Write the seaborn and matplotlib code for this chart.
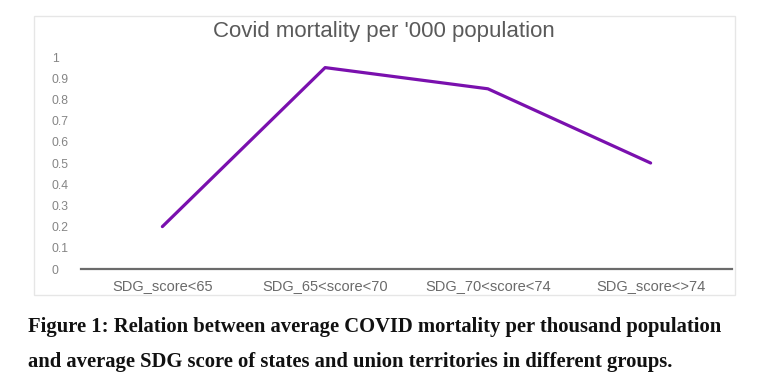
import matplotlib
matplotlib.use("Agg")
import matplotlib.pyplot as plt
import seaborn as sns
import pandas as pd
from matplotlib.patches import Rectangle

categories = ["SDG_score<65", "SDG_65<score<70", "SDG_70<score<74", "SDG_score<>74"]
mortality = [0.20, 0.95, 0.85, 0.50]
yticks = [0, 0.1, 0.2, 0.3, 0.4, 0.5, 0.6, 0.7, 0.8, 0.9, 1]
ytick_labels = ["0", "0.1", "0.2", "0.3", "0.4", "0.5", "0.6", "0.7", "0.8", "0.9", "1"]
title = "Covid mortality per '000 population"
caption1 = "Figure 1: Relation between average COVID mortality per thousand population"
caption2 = "and average SDG score of states and union territories in different groups."

sns.set_theme(style="white")
plt.rcParams["font.family"] = ["Liberation Sans", "DejaVu Sans"]

W, H = 759, 388
fig = plt.figure(figsize=(W / 100, H / 100), dpi=100)
fig.patch.set_facecolor("white")

# chart frame
fig.patches.append(Rectangle((34 / W, 1 - 295 / H), (735 - 34) / W, (295 - 16) / H,
                             transform=fig.transFigure, fill=False,
                             edgecolor="#e6e6e6", linewidth=1.0, zorder=0))

ax = fig.add_axes([81 / W, 1 - 269 / H, (732 - 81) / W, (269 - 57) / H])
df = pd.DataFrame({"group": categories, "mortality": mortality})
sns.lineplot(data=df, x="group", y="mortality", ax=ax, sort=False,
             color="#7a10ae", linewidth=2.3, solid_capstyle="round")

ax.set_xlim(-0.5, 3.5)
ax.set_ylim(0, 1)
ax.set_yticks(yticks)
ax.set_yticklabels(ytick_labels)
ax.set_xlabel("")
ax.set_ylabel("")
for s in ["top", "right", "left"]:
    ax.spines[s].set_visible(False)
ax.spines["bottom"].set_color("#6b6b6b")
ax.spines["bottom"].set_linewidth(1.6)
ax.tick_params(axis="y", length=0, pad=21, labelsize=8.8, labelcolor="#858585")
ax.tick_params(axis="x", length=0, pad=7, labelsize=10.5, labelcolor="#6a6a6a")
for lab in ax.get_yticklabels():
    lab.set_horizontalalignment("left")

fig.text(384 / W, 1 - 32 / H, title, ha="center", va="center",
         fontsize=16, color="#5a5a5a")

fig.text(28 / W, 1 - 327 / H, caption1, ha="left", va="center",
         fontsize=14.9, fontweight="bold", family=["Liberation Serif", "DejaVu Serif"],
         color="#111111")
fig.text(28 / W, 1 - 362 / H, caption2, ha="left", va="center",
         fontsize=14.9, fontweight="bold", family=["Liberation Serif", "DejaVu Serif"],
         color="#111111")

fig.savefig("out.png", dpi=100, facecolor="white")
